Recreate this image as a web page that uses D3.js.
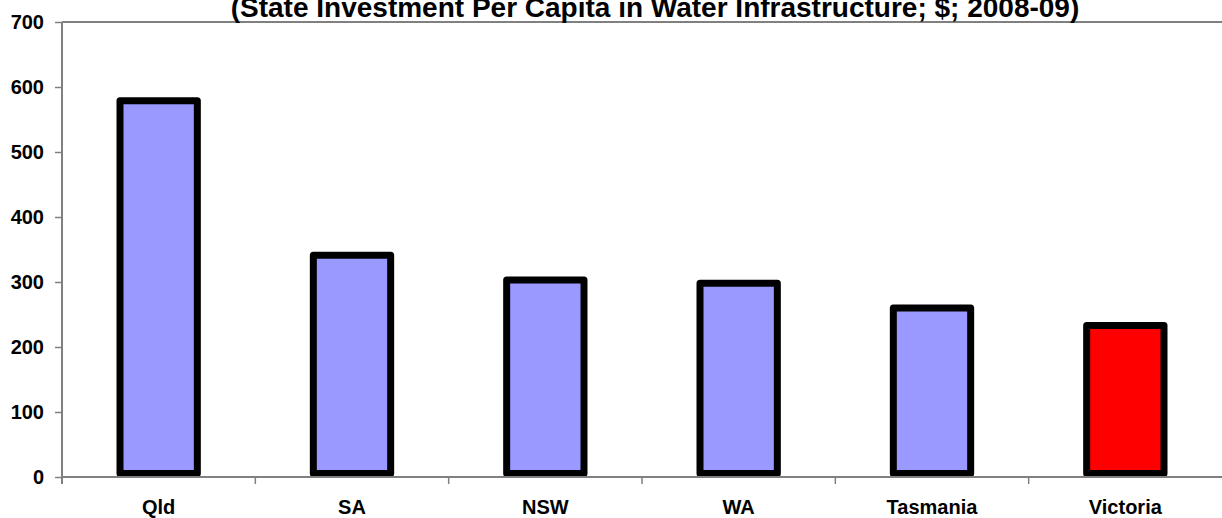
<!DOCTYPE html>
<html>
<head>
<meta charset="utf-8">
<script src="https://cdn.jsdelivr.net/npm/d3@7"></script>
<style>
  body { margin: 0; background: #fff; }
  svg { display: block; font-family: "Liberation Sans", Arial, sans-serif; }
</style>
</head>
<body>
<script>
// data
const states = ["Qld", "SA", "NSW", "WA", "Tasmania", "Victoria"];
const perCapita = [579, 341, 303, 298, 260, 233];
const yTicks = [0, 100, 200, 300, 400, 500, 600, 700];
const title = "(State Investment Per Capita in Water Infrastructure; $; 2008-09)";

const width = 1222, height = 518;
const margin = { top: 22, right: 0, bottom: 41, left: 62 };

const svg = d3.select("body").append("svg")
    .attr("width", width)
    .attr("height", height);

const x = d3.scaleBand()
    .domain(states)
    .range([margin.left, width - margin.right])
    .paddingInner(0)
    .paddingOuter(0);

const y = d3.scaleLinear()
    .domain([0, 700])
    .range([height - margin.bottom, margin.top]);

// top border of plot area
svg.append("line")
    .attr("x1", margin.left).attr("x2", width)
    .attr("y1", y(700)).attr("y2", y(700))
    .attr("stroke", "#808080").attr("stroke-width", 2);

// bars
const sw = 7;
const barW = x.bandwidth() * 0.40;
svg.selectAll("rect.bar")
    .data(states)
    .enter()
    .append("rect")
    .attr("class", "bar")
    .attr("x", d => x(d) + (x.bandwidth() - barW) / 2)
    .attr("width", barW)
    .attr("y", (d, i) => y(perCapita[i]))
    .attr("height", (d, i) => y(0) - sw / 2 - y(perCapita[i]))
    .attr("fill", d => d === "Victoria" ? "#ff0000" : "#9999ff")
    .attr("stroke", "#000")
    .attr("stroke-width", sw)
    .attr("stroke-linejoin", "round");

// y axis
const yAxis = d3.axisLeft(y)
    .tickValues(yTicks)
    .tickSize(7)
    .tickPadding(11)
    .tickFormat(d3.format("d"));

const gy = svg.append("g")
    .attr("transform", "translate(" + margin.left + ",0)")
    .call(yAxis)
    .attr("font-size", 20)
    .attr("font-family", null);
gy.select(".domain").remove();
gy.append("line")
    .attr("x1", 0).attr("x2", 0)
    .attr("y1", y(700)).attr("y2", y(0) + 7)
    .attr("stroke", "#808080").attr("stroke-width", 2);
gy.selectAll(".tick line").attr("stroke", "#808080").attr("stroke-width", 1.5);
gy.selectAll(".tick text")
    .attr("font-weight", "bold").attr("fill", "#000");

// x axis
const gx = svg.append("g")
    .attr("transform", "translate(0," + y(0) + ")");
gx.append("line")
    .attr("x1", margin.left).attr("x2", width)
    .attr("stroke", "#808080").attr("stroke-width", 2);
gx.selectAll("line.tick")
    .data(states.slice(1))
    .enter()
    .append("line")
    .attr("class", "tick")
    .attr("x1", d => x(d)).attr("x2", d => x(d))
    .attr("y1", 0).attr("y2", 7)
    .attr("stroke", "#808080").attr("stroke-width", 1.5);
gx.selectAll("text")
    .data(states)
    .enter()
    .append("text")
    .attr("x", d => x(d) + x.bandwidth() / 2)
    .attr("y", 37)
    .attr("text-anchor", "middle")
    .attr("font-size", 20)
    .attr("font-weight", "bold")
    .text(d => d);

// title (cut off at the top in the original)
svg.append("text")
    .attr("x", 655)
    .attr("y", 16.5)
    .attr("text-anchor", "middle")
    .attr("font-size", 28)
    .attr("font-weight", "bold")
    .text(title);
</script>
</body>
</html>
